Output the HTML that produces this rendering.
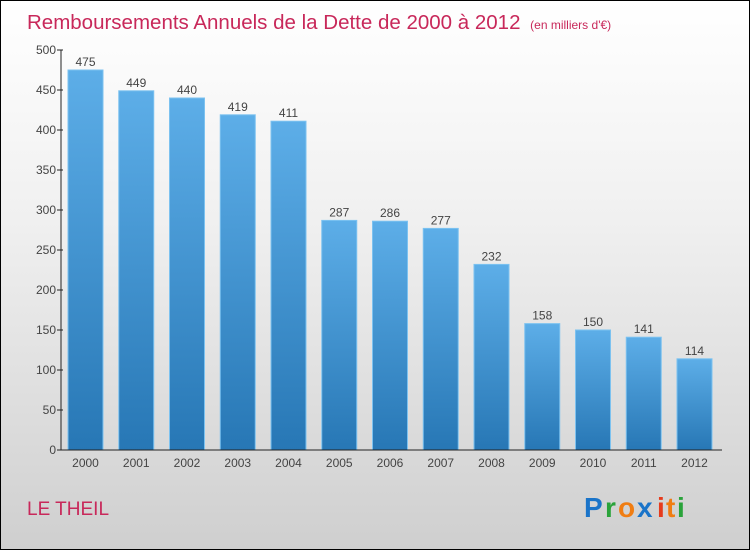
<!DOCTYPE html>
<html><head><meta charset="utf-8"><style>
html,body{margin:0;padding:0;}
body{width:750px;height:550px;overflow:hidden;font-family:"Liberation Sans",sans-serif;}
#wrap{position:relative;width:748px;height:548px;border:1px solid #000;background:linear-gradient(#ffffff 0%,#f0f0f0 40%,#cfcfcf 100%);}
</style></head><body>
<div id="wrap">
<svg id="chart" width="748" height="548">
<defs>
<linearGradient id="bg" x1="0" y1="0" x2="0" y2="1"><stop offset="0" stop-color="#5daee8"/><stop offset="1" stop-color="#2777b5"/></linearGradient>
</defs>
<text x="26" y="28" font-size="20.5" fill="#c8285a">Remboursements Annuels de la Dette de 2000 à 2012 <tspan font-size="12" dx="4">(en milliers d'€)</tspan></text>
<g id="bars"></g>
<g id="axes"></g>
<text x="26" y="514" font-size="19" fill="#c8285a">LE THEIL</text>
<g font-size="28" font-weight="bold" font-family="'Liberation Sans',sans-serif">
<text x="583" y="516" fill="#1a74c9">P</text><text x="604" y="516" fill="#2aa33a">r</text><text x="617" y="516" fill="#f07d12">o</text><text x="636" y="516" fill="#1a74c9">x</text><text x="656" y="516" fill="#e63b1c">i</text><text x="665" y="516" fill="#f07d12">t</text><text x="676" y="516" fill="#2aa33a">i</text>
</g>
</svg>
</div>
<script>
const years=["2000","2001","2002","2003","2004","2005","2006","2007","2008","2009","2010","2011","2012"];
const values=[475,449,440,419,411,287,286,277,232,158,150,141,114];
const yTicks=[0,50,100,150,200,250,300,350,400,450,500];
const NS="http://www.w3.org/2000/svg";
const x0=60,y0=449,yTop=49,ymax=500;
const step=50.75,bw=35,first=84.5;
const y=v=>y0-(v/ymax)*(y0-yTop);
const xc=i=>first+i*step;
function mk(t,a,p){const e=document.createElementNS(NS,t);for(const k in a)e.setAttribute(k,a[k]);p.appendChild(e);return e;}
const bars=document.getElementById('bars'),axes=document.getElementById('axes');
values.forEach((v,i)=>{
 const r=mk('rect',{x:xc(i)-bw/2,y:y(v),width:bw,height:y0-y(v),fill:'url(#bg)',stroke:'#7cc2f0','stroke-width':1},bars);
 
 
 const t=mk('text',{x:xc(i),y:y(v)-4,'text-anchor':'middle','font-size':12,fill:'#444'},bars);
 t.textContent=v;
 
 
 const l=mk('text',{x:xc(i),y:466,'text-anchor':'middle','font-size':12,fill:'#444'},axes);
 l.textContent=years[i];
 
 
});
const ya=mk('line',{x1:x0,y1:yTop,x2:x0,y2:y0,stroke:'#222'},axes);


const xa=mk('line',{x1:x0,y1:y0,x2:721,y2:y0,stroke:'#222'},axes);


yTicks.forEach(v=>{
 mk('line',{x1:x0-4,y1:y(v),x2:x0+2,y2:y(v),stroke:'#222'},axes);
 const t=mk('text',{x:x0-5,y:y(v)+4,'text-anchor':'end','font-size':12,fill:'#444'},axes);
 t.textContent=v;
 
 
});
</script>
</body></html>
